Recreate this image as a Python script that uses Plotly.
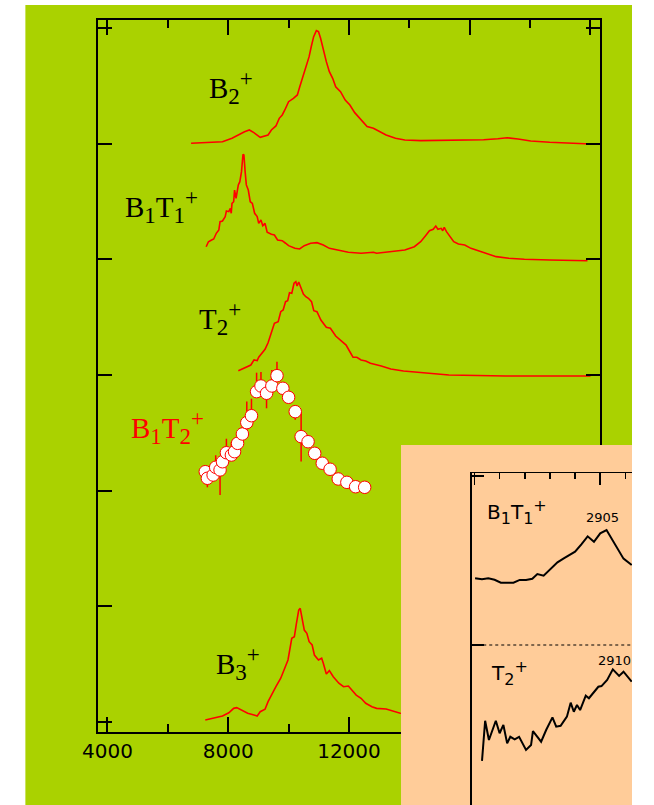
import plotly.graph_objects as go

W, H = 654, 805


def px(x):
    return x / W


def py(y):
    return 1 - y / H


GREEN = "#AAD200"
PEACH = "#FFCC99"
RED = "#FF0000"

# ---------------- main panel data (x: cm^-1, y: offset intensity) ----------------
b2_x = [6770, 7190, 7810, 8125, 8330, 8540, 8700, 8850, 9060, 9220,
        9320, 9430, 9580, 9690, 9790, 9875, 10000, 10160, 10290, 10370,
        10470, 10570, 10680, 10750, 10830, 10920, 10990, 11060, 11150, 11250,
        11350, 11460, 11560, 11720, 11875, 12030, 12190, 12400, 12600, 12810,
        13020, 13230, 13540, 13850, 14375, 15420, 16460, 16930, 17240, 17600,
        18020, 18650, 19480, 20000]
b2_y = [5.003, 5.008, 5.017, 5.046, 5.075, 5.103, 5.118, 5.095, 5.055, 5.069,
        5.075, 5.118, 5.153, 5.219, 5.248, 5.291, 5.363, 5.392, 5.421, 5.492,
        5.579, 5.665, 5.752, 5.838, 5.925, 5.977, 5.968, 5.911, 5.810, 5.709,
        5.622, 5.565, 5.492, 5.449, 5.377, 5.334, 5.268, 5.204, 5.147, 5.133,
        5.103, 5.075, 5.046, 5.032, 5.026, 5.029, 5.034, 5.043, 5.051, 5.040,
        5.023, 5.012, 5.003, 4.997]

b1t1_x = [7270, 7345, 7450, 7520, 7605, 7690, 7730, 7810, 7900, 7940,
          8020, 8070, 8100, 8125, 8180, 8210, 8260, 8335, 8385, 8440,
          8490, 8520, 8560, 8600, 8665, 8730, 8800, 8875, 8960, 9010,
          9085, 9145, 9220, 9290, 9430, 9530, 9635, 9790, 9900, 10000,
          10210, 10365, 10520, 10730, 10940, 11150, 11350, 11670, 11980, 12400,
          12810, 12915, 13230, 13440, 13850, 14165, 14375, 14530, 14665, 14790,
          14875, 14945, 15055, 15105, 15155, 15230, 15310, 15470, 15625, 15835,
          16040, 16355, 16560, 16875, 17290, 17810, 18650, 19900]
b1t1_y = [4.109, 4.152, 4.167, 4.176, 4.225, 4.254, 4.325, 4.331, 4.369, 4.418,
          4.412, 4.441, 4.398, 4.484, 4.498, 4.599, 4.528, 4.643, 4.671, 4.758,
          4.908, 4.902, 4.758, 4.643, 4.599, 4.498, 4.484, 4.398, 4.369, 4.311,
          4.340, 4.291, 4.311, 4.234, 4.216, 4.210, 4.167, 4.161, 4.139, 4.118,
          4.095, 4.089, 4.118, 4.139, 4.144, 4.124, 4.095, 4.081, 4.061, 4.052,
          4.061, 4.052, 4.061, 4.066, 4.081, 4.109, 4.152, 4.202, 4.247, 4.260,
          4.288, 4.260, 4.268, 4.247, 4.277, 4.239, 4.210, 4.152, 4.132, 4.124,
          4.095, 4.066, 4.052, 4.023, 4.009, 4.000, 3.994, 3.988]

t2_x = [8335, 8440, 8595, 8750, 8855, 8960, 9010, 9115, 9220, 9320,
        9430, 9530, 9655, 9740, 9820, 9900, 9970, 10030, 10105, 10180,
        10240, 10280, 10335, 10415, 10490, 10570, 10655, 10760, 10835, 10940,
        11070, 11250, 11385, 11560, 11720, 11905, 12030, 12135, 12260, 12400,
        12555, 12710, 13070, 13385, 13805, 14220, 15310, 17190, 20000]
t2_y = [3.037, 3.049, 3.067, 3.086, 3.130, 3.124, 3.153, 3.188, 3.222, 3.279,
        3.360, 3.447, 3.461, 3.547, 3.562, 3.634, 3.642, 3.711, 3.706, 3.793,
        3.807, 3.769, 3.804, 3.749, 3.700, 3.677, 3.663, 3.634, 3.556, 3.547,
        3.475, 3.412, 3.404, 3.337, 3.297, 3.259, 3.201, 3.153, 3.153, 3.130,
        3.121, 3.101, 3.078, 3.052, 3.034, 3.023, 3.000, 2.991, 2.991]

b1t2_x = [7240, 7310, 7500, 7585, 7730, 7810, 7940, 8105, 8210, 8310,
          8470, 8615, 8770, 8940, 9085, 9270, 9445, 9615, 9810, 10000,
          10220, 10415, 10645, 10865, 11115, 11375, 11645, 11930, 12220, 12520]
b1t2_y = [2.164, 2.107, 2.135, 2.202, 2.179, 2.250, 2.328, 2.308, 2.337, 2.409,
          2.490, 2.588, 2.648, 2.856, 2.905, 2.842, 2.905, 2.994, 2.885, 2.807,
          2.683, 2.467, 2.423, 2.323, 2.237, 2.185, 2.101, 2.072, 2.034, 2.029]
b1t2_err_plus = [0, 0.078, 0, 0.104, 0.112, 0, 0.121, 0.112, 0, 0.043,
                 0.06, 0.182, 0.147, 0.164, 0.121, 0.02, 0.138, 0.121, 0, 0,
                 0.02, 0.216, 0, 0, 0, 0, 0, 0, 0, 0]
b1t2_err_minus = [0, 0.078, 0, 0.02, 0.216, 0, 0.03, 0.04, 0, 0.03,
                  0.03, 0.104, 0.095, 0.02, 0.02, 0.130, 0.02, 0.02, 0, 0,
                  0.069, 0.216, 0, 0, 0, 0, 0, 0, 0, 0]

b3_x = [7240, 7500, 7810, 8020, 8180, 8280, 8440, 8645, 8855, 8960,
        9060, 9220, 9320, 9430, 9580, 9740, 9875, 9980, 10105, 10190,
        10260, 10335, 10385, 10445, 10520, 10605, 10680, 10780, 10855, 10990,
        11095, 11150, 11250, 11350, 11480, 11665, 11820, 11980, 12085, 12240,
        12400, 12555, 12760, 12915, 13230, 13490, 13700, 14375, 15625]
b3_y = [0.017, 0.032, 0.052, 0.080, 0.118, 0.124, 0.104, 0.075, 0.061, 0.052,
        0.089, 0.110, 0.176, 0.233, 0.305, 0.378, 0.464, 0.536, 0.724, 0.737,
        0.853, 0.968, 0.983, 0.910, 0.795, 0.767, 0.694, 0.666, 0.579, 0.536,
        0.551, 0.507, 0.415, 0.444, 0.392, 0.335, 0.305, 0.311, 0.277, 0.233,
        0.205, 0.162, 0.132, 0.118, 0.112, 0.089, 0.075, 0.061, 0.052]

x_major_ticks = [4000, 8000, 12000, 16000, 20000]
x_major_text = ["4000", "8000", "12000", "16000", "20000"]
x_minor_ticks = [6000, 10000, 14000, 18000]
y_ticks = [0, 1, 2, 3, 4, 5, 6]


def sub(t, size):
    return "<sub><span style='font-size:%dpx'>%s</span></sub>" % (size, t)


def sup(t, size):
    return "<sup><span style='font-size:%dpx'>%s</span></sup>" % (size, t)


MS = 23  # main label sub/superscript size
main_labels = ["B" + sub("2", MS) + sup("+", MS),
               "B" + sub("1", MS) + "T" + sub("1", MS) + sup("+", MS),
               "T" + sub("2", MS) + sup("+", MS),
               "B" + sub("1", MS) + "T" + sub("2", MS) + sup("+", MS),
               "B" + sub("3", MS) + sup("+", MS)]
main_label_colors = ["black", "black", "black", RED, "black"]
main_label_pos = [(204, 88), (114, 207), (193, 318), (121, 428), (211, 663)]

# ---------------- inset data (x: cm^-1) ----------------
in_b1t1_x = [2800.5, 2806, 2811, 2816, 2821, 2831, 2836, 2841, 2846, 2850,
             2855, 2860, 2866, 2871, 2880, 2885, 2890, 2895, 2900, 2905,
             2910.5, 2913.5, 2918.5, 2925]
in_b1t1_y = [1.395, 1.389, 1.395, 1.386, 1.369, 1.369, 1.385, 1.385, 1.392, 1.420,
             1.410, 1.444, 1.489, 1.513, 1.552, 1.596, 1.643, 1.611, 1.661, 1.680,
             1.611, 1.582, 1.511, 1.473]

in_t2_x = [2806, 2808.5, 2811.5, 2817, 2820, 2823, 2826, 2828.5, 2832, 2835.5,
           2841, 2845, 2846.5, 2853, 2857, 2862, 2865, 2868.5, 2873.5, 2876.5,
           2879, 2881.5, 2884, 2888.5, 2891, 2894.5, 2898.5, 2901, 2905.5, 2910,
           2915, 2918.5, 2925]
in_t2_y = [0.314, 0.552, 0.438, 0.552, 0.478, 0.527, 0.418, 0.457, 0.442, 0.457,
           0.379, 0.408, 0.491, 0.428, 0.497, 0.572, 0.517, 0.522, 0.576, 0.659,
           0.605, 0.645, 0.615, 0.700, 0.685, 0.720, 0.753, 0.757, 0.793, 0.856,
           0.817, 0.842, 0.783]

in_peak_text = ["2905", "2910"]
in_peak_x = [2902, 2911]
in_peak_y = [1.757, 0.911]
IS = 16  # inset label sub/superscript size
in_labels = ["B" + sub("1", IS) + "T" + sub("1", IS) + sup("+", IS),
             "T" + sub("2", IS) + sup("+", IS)]
in_label_pos = [(498, 512), (502, 673)]

fig = go.Figure()

line_style = dict(color=RED, width=1.6)
for xs, ys in [(b2_x, b2_y), (b1t1_x, b1t1_y), (t2_x, t2_y), (b3_x, b3_y)]:
    fig.add_trace(go.Scatter(x=xs, y=ys, mode="lines", line=line_style,
                             xaxis="x", yaxis="y", hoverinfo="skip"))

fig.add_trace(go.Scatter(
    x=b1t2_x, y=b1t2_y, mode="markers", xaxis="x", yaxis="y",
    marker=dict(size=12.5, color="white", line=dict(color=RED, width=1)),
    error_y=dict(type="data", symmetric=False, array=b1t2_err_plus,
                 arrayminus=b1t2_err_minus, color=RED, thickness=1.5, width=0),
    cliponaxis=False, hoverinfo="skip"))

# peach inset background panel (separate subplot so it sits above the main panel)
fig.add_trace(go.Scatter(x=[0, 1, 1, 0, 0], y=[0, 0, 1, 1, 0], mode="none",
                         fill="toself", fillcolor=PEACH, xaxis="x2", yaxis="y2",
                         hoverinfo="skip"))

for xs, ys in [(in_b1t1_x, in_b1t1_y), (in_t2_x, in_t2_y)]:
    fig.add_trace(go.Scatter(x=xs, y=ys, mode="lines",
                             line=dict(color="black", width=2),
                             xaxis="x3", yaxis="y3", hoverinfo="skip"))

annotations = []
for txt, col, (lx, ly) in zip(main_labels, main_label_colors, main_label_pos):
    annotations.append(dict(text=txt, x=px(lx), y=py(ly), xref="paper", yref="paper",
                            xanchor="left", yanchor="middle", showarrow=False,
                            font=dict(family="Liberation Serif", size=29, color=col)))
for txt, (lx, ly) in zip(in_labels, in_label_pos):
    annotations.append(dict(text=txt, x=px(lx), y=py(ly), xref="paper", yref="paper",
                            xanchor="left", yanchor="middle", showarrow=False,
                            font=dict(family="DejaVu Sans", size=20, color="black")))
for txt, xx, yy in zip(in_peak_text, in_peak_x, in_peak_y):
    annotations.append(dict(text=txt, x=xx, y=yy, xref="x3", yref="y3",
                            xanchor="center", yanchor="middle", showarrow=False,
                            font=dict(family="DejaVu Sans", size=13, color="black")))

axis_common = dict(showgrid=False, zeroline=False, showline=True, linecolor="black")

fig.update_layout(
    width=W, height=H, margin=dict(l=0, r=0, t=0, b=0), autosize=False,
    paper_bgcolor="white", plot_bgcolor="rgba(0,0,0,0)", showlegend=False,
    shapes=[
        dict(type="rect", xref="paper", yref="paper", x0=px(11), x1=1, y0=0, y1=py(5),
             fillcolor=GREEN, line=dict(width=0), layer="below"),
        dict(type="line", xref="x3", yref="y3", x0=2807, x1=2925, y0=1, y1=1,
             line=dict(color="black", width=1, dash="dot")),
    ],
    annotations=annotations,
    xaxis=dict(**axis_common, domain=[px(88), px(620)], range=[3687.5, 20312.5],
               anchor="y", linewidth=2, mirror="ticks", ticks="inside", ticklen=15,
               tickwidth=2, tickcolor="black", tickmode="array",
               tickvals=x_major_ticks, ticktext=x_major_text,
               minor=dict(tickmode="array", tickvals=x_minor_ticks, ticks="inside",
                          ticklen=8, tickwidth=2, tickcolor="black"),
               tickfont=dict(family="DejaVu Sans", size=20, color="black")),
    yaxis=dict(**axis_common, domain=[py(732), py(20)], range=[-0.0865, 6.069],
               anchor="x", linewidth=2, mirror="ticks", ticks="inside", ticklen=14,
               tickwidth=2, tickcolor="black", tickmode="array", tickvals=y_ticks,
               showticklabels=False),
    xaxis2=dict(domain=[px(409), 1], range=[0, 1], visible=False, anchor="y2"),
    yaxis2=dict(domain=[0, py(445)], range=[0, 1], visible=False, anchor="x2"),
    xaxis3=dict(**axis_common, domain=[px(484), 1], range=[2797.75, 2925.25],
                anchor="y3", side="top", linewidth=1.5, ticks="inside", ticklen=12,
                tickwidth=1.5, tickcolor="black", tickmode="linear", tick0=2800, dtick=100,
                minor=dict(ticks="inside", ticklen=6, tickwidth=1.5, tickcolor="black",
                           tick0=2800, dtick=20),
                showticklabels=False),
    yaxis3=dict(**axis_common, domain=[0, py(473)], range=[0.0533, 2.0178],
                anchor="x3", linewidth=1.5, ticks="inside", ticklen=12, tickwidth=1.5,
                tickcolor="black", tickmode="array", tickvals=[1, 2],
                showticklabels=False),
)

fig.write_html("out.html", config={"staticPlot": True, "displayModeBar": False})
